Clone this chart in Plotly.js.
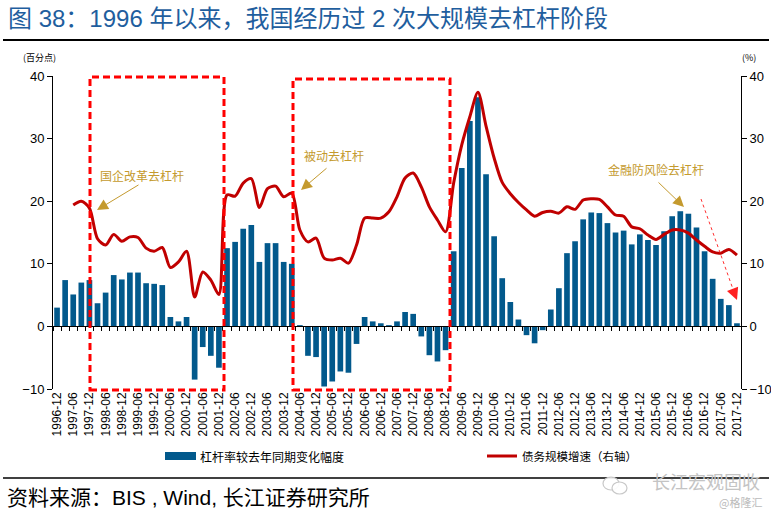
<!DOCTYPE html>
<html>
<head>
<meta charset="utf-8">
<script src="https://cdn.plot.ly/plotly-3.0.1.min.js"></script>
<style>html,body{margin:0;padding:0;background:#fff;}#chart{width:771px;height:515px;}</style>
</head>
<body>
<div id="chart"></div>
<script>
// ---- data ----
var quarters = [
"1996-12",
"1997-03","1997-06","1997-09","1997-12",
"1998-03","1998-06","1998-09","1998-12",
"1999-03","1999-06","1999-09","1999-12",
"2000-03","2000-06","2000-09","2000-12",
"2001-03","2001-06","2001-09","2001-12",
"2002-03","2002-06","2002-09","2002-12",
"2003-03","2003-06","2003-09","2003-12",
"2004-03","2004-06","2004-09","2004-12",
"2005-03","2005-06","2005-09","2005-12",
"2006-03","2006-06","2006-09","2006-12",
"2007-03","2007-06","2007-09","2007-12",
"2008-03","2008-06","2008-09","2008-12",
"2009-03","2009-06","2009-09","2009-12",
"2010-03","2010-06","2010-09","2010-12",
"2011-03","2011-06","2011-09","2011-12",
"2012-03","2012-06","2012-09","2012-12",
"2013-03","2013-06","2013-09","2013-12",
"2014-03","2014-06","2014-09","2014-12",
"2015-03","2015-06","2015-09","2015-12",
"2016-03","2016-06","2016-09","2016-12",
"2017-03","2017-06","2017-09","2017-12"
];
var tickLabels = [
"1996-12","1997-06","1997-12","1998-06","1998-12","1999-06","1999-12",
"2000-06","2000-12","2001-06","2001-12","2002-06","2002-12","2003-06","2003-12",
"2004-06","2004-12","2005-06","2005-12","2006-06","2006-12","2007-06","2007-12",
"2008-06","2008-12","2009-06","2009-12","2010-06","2010-12","2011-06","2011-12",
"2012-06","2012-12","2013-06","2013-12","2014-06","2014-12","2015-06","2015-12",
"2016-06","2016-12","2017-06","2017-12"
];
// 杠杆率较去年同期变化幅度（百分点）
var leverageChange = [
3.0,
7.4,5.1,7.0,7.4,
3.7,5.4,8.2,7.5,
8.6,8.6,6.9,6.8,
6.6,1.5,0.8,1.5,
-8.5,-3.3,-4.7,-6.6,
12.5,13.5,15.6,16.2,
10.3,13.3,13.3,10.3,
10.0,0.2,-4.7,-4.9,
-9.6,-8.8,-7.2,-7.4,
-2.8,1.5,0.8,0.5,
0.2,0.8,2.3,2.0,
-1.6,-4.6,-5.6,-3.8,
12.0,25.3,32.8,36.6,
24.3,14.4,7.7,3.9,
1.1,-1.4,-2.7,-0.6,
2.7,6.1,11.7,13.6,
17.1,18.2,18.1,16.5,
15.0,15.3,13.1,14.7,
13.8,13.0,15.2,17.6,
18.4,18.0,15.8,12.0,
7.6,4.4,3.4,0.5
];
// 债务规模增速（%，右轴）
var debtGrowth = [
null,
null,19.4,20.0,18.9,
14.0,13.0,14.7,13.6,
14.3,14.2,12.5,12.0,
12.6,9.4,10.3,12.0,
4.7,8.7,7.4,5.1,
21.0,20.8,22.9,23.6,
19.0,22.0,22.4,20.7,
21.3,15.4,13.5,14.1,
10.9,10.6,10.9,10.1,
13.0,17.3,17.3,17.3,
18.3,20.7,23.7,24.5,
22.3,19.1,17.0,15.1,
22.9,29.0,33.5,37.4,
32.0,26.9,23.0,21.2,
19.8,18.6,17.6,18.2,
18.4,18.1,19.1,18.7,
20.2,20.4,20.3,19.1,
17.8,17.6,15.9,15.6,
14.6,13.9,14.7,15.4,
15.4,14.9,13.8,12.8,
11.9,11.7,12.3,11.4
];
var seriesNames = ["杠杆率较去年同期变化幅度", "债务规模增速（右轴）"];

// ---- layout helpers (pixel -> paper) ----
var L = 53, R = 741, T = 76, B = 389;
function PX(x){ return (x - L) / (R - L); }
function PY(y){ return (B - y) / (B - T); }

var FONT = "Liberation Sans, Arial, Noto Sans CJK SC, sans-serif";
var CJK = "Noto Sans CJK SC, Liberation Sans, sans-serif";
var MIX = "Liberation Sans, Noto Sans CJK SC, sans-serif";
var gold = "#C49A2E";
var barColor = "#02598C";
var lineColor = "#C00000";

var traces = [
  {
    type: "bar", x: quarters, y: leverageChange, name: seriesNames[0],
    marker: {color: barColor}, xaxis: "x", yaxis: "y", hoverinfo: "x+y"
  },
  {
    type: "scatter", mode: "lines", x: quarters, y: debtGrowth, name: seriesNames[1],
    line: {color: lineColor, width: 3, shape: "spline", smoothing: 0.8},
    connectgaps: false, xaxis: "x2", yaxis: "y2"
  }
];

function box(x0, x1, y0, y1){
  return {type: "rect", xref: "paper", yref: "paper",
    x0: PX(x0), x1: PX(x1), y0: PY(y1), y1: PY(y0),
    line: {color: "#FF0000", width: 3, dash: "7px,4px"}, fillcolor: "rgba(0,0,0,0)", layer: "above"};
}
function circ(x0, x1, y0, y1){
  return {type: "circle", xref: "paper", yref: "paper",
    x0: PX(x0), x1: PX(x1), y0: PY(y1), y1: PY(y0),
    line: {color: "#C8C8C8", width: 1.2}, fillcolor: "rgba(255,255,255,0.9)"};
}

var shapes = [
  // separators
  {type: "line", xref: "paper", yref: "paper", x0: PX(3), x1: PX(769), y0: PY(40), y1: PY(40), line: {color: "#000", width: 2}},
  {type: "line", xref: "paper", yref: "paper", x0: PX(3), x1: PX(769), y0: PY(478), y1: PY(478), line: {color: "#000", width: 1.5}},
  // dashed stage boxes
  box(90, 224, 77, 390),
  box(293, 450, 79, 390),
  // dotted red trend line
  {type: "line", xref: "paper", yref: "paper", x0: PX(701), x1: PX(734), y0: PY(199), y1: PY(292), line: {color: "#FF3030", width: 1, dash: "dot"}},
  // custom legend
  {type: "rect", xref: "paper", yref: "paper", x0: PX(165), x1: PX(196), y0: PY(460), y1: PY(452), fillcolor: barColor, line: {width: 0}},
  {type: "line", xref: "paper", yref: "paper", x0: PX(487), x1: PX(517), y0: PY(456), y1: PY(456), line: {color: lineColor, width: 3}},
  // watermark icon
  circ(603, 619, 477, 490),
  circ(612, 627, 482, 494)
];

function arrow(hx, hy, tx, ty, color, size){
  return {xref: "paper", yref: "paper", x: PX(hx), y: PY(hy), ax: PX(tx), ay: PY(ty),
    axref: "paper", ayref: "paper", text: "", showarrow: true,
    arrowhead: 2, arrowsize: size || 2.2, arrowwidth: 1, arrowcolor: color};
}
function label(x, y, txt, size, color, anchor, fam){
  return {xref: "paper", yref: "paper", x: PX(x), y: PY(y), text: txt, showarrow: false,
    xanchor: anchor || "left", yanchor: "middle", font: {size: size, color: color, family: fam || CJK}};
}

var annotations = [
  label(39, 57, "(百分点)", 9, "#000", "center"),
  label(749, 57, "(%)", 9, "#000", "center"),
  label(98, 175, "国企改革去杠杆", 12, gold),
  arrow(97, 210, 140, 184, gold),
  label(302, 155, "被动去杠杆", 12, gold),
  arrow(301, 190, 328, 167, gold),
  label(606, 169, "金融防风险去杠杆", 12, gold),
  arrow(684, 207, 657, 181, gold),
  arrow(737, 300, 733, 290, "#FF2020", 2.4),
  label(198, 456, seriesNames[0], 12, "#000"),
  label(520, 456, seriesNames[1], 11.5, "#000"),
  label(5, 497, "资料来源：BIS , Wind, 长江证券研究所", 21, "#000", "left", MIX),
  label(762, 481, "长江宏观固收", 18, "#C4C4C4", "right"),
  label(764, 502, "@格隆汇", 11, "#BBBBBB", "right")
];

var layout = {
  width: 771, height: 515,
  margin: {l: L, r: 771 - R, t: T, b: 515 - B, pad: 0},
  paper_bgcolor: "#fff", plot_bgcolor: "#fff",
  showlegend: false,
  bargap: 0.3,
  title: {text: "图 38：1996 年以来，我国经历过 2 次大规模去杠杆阶段",
    x: 8 / 771, xanchor: "left", xref: "container", y: 1 - 19 / 515, yanchor: "middle", yref: "container",
    font: {size: 24, color: "#1F5E9E", family: MIX}},
  font: {family: FONT, color: "#000"},
  xaxis: {
    type: "category", categoryorder: "array", categoryarray: quarters,
    range: [-0.5, quarters.length - 0.5],
    tickmode: "array", tickvals: tickLabels, ticktext: tickLabels,
    tickangle: -90, tickfont: {size: 12, family: FONT, color: "#000"},
    ticks: "", showline: false, showgrid: false, zeroline: false, fixedrange: true
  },
  xaxis2: {
    type: "category", categoryorder: "array", categoryarray: quarters,
    range: [-0.5, quarters.length - 0.5],
    overlaying: "x", anchor: "free", position: 0.2, side: "bottom",
    tickmode: "linear", tick0: 0, dtick: 1, tickson: "boundaries",
    ticks: "outside", ticklen: 4, tickwidth: 1, tickcolor: "#000",
    showticklabels: false, showline: true, linecolor: "#000", linewidth: 1,
    showgrid: false, zeroline: false
  },
  yaxis: {
    range: [-10, 40], tickmode: "array", tickvals: [-10, 0, 10, 20, 30, 40],
    ticks: "outside", ticklen: 5, tickcolor: "#000", showline: true, linecolor: "#000", linewidth: 1,
    showgrid: false, zeroline: false, tickfont: {size: 13, family: FONT, color: "#000"}
  },
  yaxis2: {
    range: [-10, 40], tickmode: "array", tickvals: [-10, 0, 10, 20, 30, 40],
    overlaying: "y", side: "right", anchor: "x",
    ticks: "outside", ticklen: 5, tickcolor: "#000", showline: true, linecolor: "#000", linewidth: 1,
    showgrid: false, zeroline: false, tickfont: {size: 13, family: FONT, color: "#000"}
  },
  shapes: shapes,
  annotations: annotations
};

Plotly.newPlot("chart", traces, layout, {staticPlot: true, displayModeBar: false});
</script>
</body>
</html>
